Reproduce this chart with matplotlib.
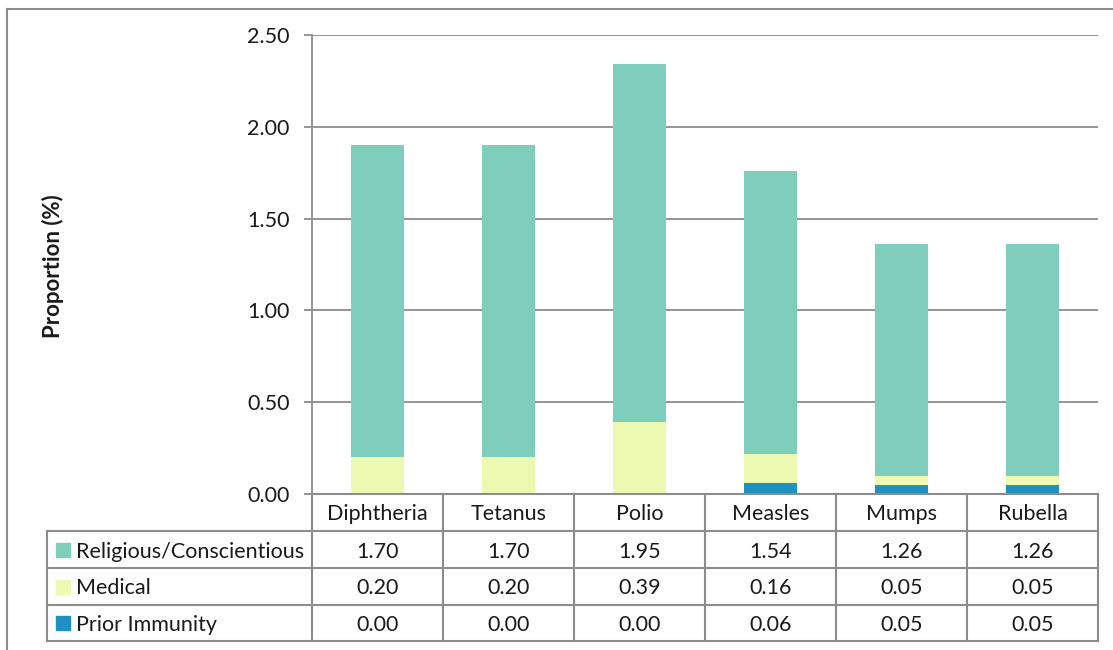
import matplotlib
matplotlib.use("Agg")
import matplotlib.pyplot as plt
import numpy as np
from matplotlib.transforms import blended_transform_factory
from matplotlib.lines import Line2D
from matplotlib.patches import Rectangle

plt.rcParams['font.family'] = ['Lato', 'DejaVu Sans']

vaccines = ["Diphtheria", "Tetanus", "Polio", "Measles", "Mumps", "Rubella"]
series_names = ["Religious/Conscientious", "Medical", "Prior Immunity"]
religious = [1.70, 1.70, 1.95, 1.54, 1.26, 1.26]
medical = [0.20, 0.20, 0.39, 0.16, 0.05, 0.05]
prior = [0.00, 0.00, 0.00, 0.06, 0.05, 0.05]
yticks = [0.0, 0.5, 1.0, 1.5, 2.0, 2.5]

colors = {"Religious/Conscientious": "#7fcdbb",
          "Medical": "#edf8b1",
          "Prior Immunity": "#1d91c0"}
grid_c = "#8c8c8c"
txt_c = "#1a1a1a"
fs = 15.5
W, H = 1113, 650

fig = plt.figure(figsize=(W / 100, H / 100), dpi=100)
ax = fig.add_axes([312 / W, 1 - 494 / H, 786 / W, 459 / H])

x = np.arange(len(vaccines))
bw = 0.4
prior_a = np.array(prior)
med_a = np.array(medical)
rel_a = np.array(religious)
ax.bar(x, prior_a, bw, color=colors["Prior Immunity"], zorder=3)
ax.bar(x, med_a, bw, bottom=prior_a, color=colors["Medical"], zorder=3)
ax.bar(x, rel_a, bw, bottom=prior_a + med_a, color=colors["Religious/Conscientious"], zorder=3)

ax.set_xlim(-0.5, len(vaccines) - 0.5)
ax.set_ylim(0, 2.5)
ax.set_yticks(yticks)
ax.set_yticklabels([f"{v:.2f}" for v in yticks], fontsize=fs, color=txt_c)
ax.tick_params(axis='y', length=6, width=1.3, color=grid_c, pad=10)
ax.set_xticks([])
ax.yaxis.grid(True, color=grid_c, linewidth=1.3, zorder=0)
for s in ["top", "right", "bottom"]:
    ax.spines[s].set_visible(False)
ax.spines["left"].set_color(grid_c)
ax.spines["left"].set_linewidth(1.3)

fig.text(53 / W, 1 - 266 / H, "Proportion (%)", rotation=90, fontsize=16,
         fontweight="bold", ha="center", va="center", color=txt_c)

# data table beneath the bars: columns follow the category positions
tr = blended_transform_factory(ax.transData, fig.transFigure)
def fy(py):
    return 1 - py / H

row_edges = [494, 531, 568, 605, 641]
lw = 1.5
left_px = 47
text_drop = 2
# horizontal lines
fig.add_artist(Line2D([312 / W, 1098 / W], [fy(494)] * 2, color=grid_c, lw=lw))
for py in row_edges[1:]:
    fig.add_artist(Line2D([left_px / W, 1098 / W], [fy(py)] * 2, color=grid_c, lw=lw))
# vertical lines
fig.add_artist(Line2D([left_px / W] * 2, [fy(531), fy(641)], color=grid_c, lw=lw))
for k in range(len(vaccines) + 1):
    xe = k - 0.5
    fig.add_artist(Line2D([xe, xe], [fy(494), fy(641)], color=grid_c, lw=lw,
                          transform=tr))

# column headers
for i, name in enumerate(vaccines):
    fig.text(i, fy((494 + 531) / 2 + text_drop), name, transform=tr, ha="center",
             va="center", fontsize=fs, color=txt_c)

# row labels with colour keys and values
table_rows = [religious, medical, prior]
for r, (name, vals) in enumerate(zip(series_names, table_rows)):
    yc = (row_edges[r + 1] + row_edges[r + 2]) / 2
    fig.add_artist(Rectangle((56 / W, fy(yc + 7)), 14 / W, 14 / H,
                             color=colors[name], transform=fig.transFigure))
    fig.text(76 / W, fy(yc + text_drop), name, ha="left", va="center",
             fontsize=fs, color=txt_c)
    for i, v in enumerate(vals):
        fig.text(i, fy(yc + text_drop), f"{v:.2f}", transform=tr, ha="center",
                 va="center", fontsize=fs, color=txt_c)

# outer frame
fig.add_artist(Line2D([7 / W, 1], [fy(9)] * 2, color=grid_c, lw=1.5))
fig.add_artist(Line2D([7 / W] * 2, [fy(9), 0], color=grid_c, lw=1.5))

fig.savefig("out.png", dpi=100)
